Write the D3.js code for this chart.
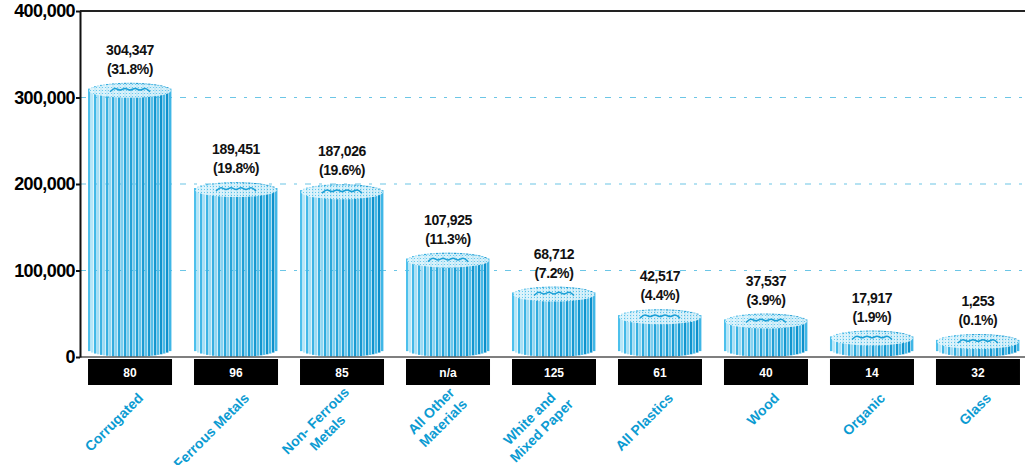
<!DOCTYPE html>
<html>
<head>
<meta charset="utf-8">
<script src="https://cdn.jsdelivr.net/npm/d3@7"></script>
<style>
body { margin: 0; background: #fff; }
svg { display: block; font-family: "Liberation Sans", Arial, sans-serif; }
</style>
</head>
<body>
<svg id="chart" width="1025" height="465"></svg>
<script>
// tons recovered per material, share of total, number of facilities
const categories = ["Corrugated", "Ferrous Metals", "Non- Ferrous\nMetals", "All Other\nMaterials",
                    "White and\nMixed Paper", "All Plastics", "Wood", "Organic", "Glass"];
const tons = [304347, 189451, 187026, 107925, 68712, 42517, 37537, 17917, 1253];
const shares = ["31.8%", "19.8%", "19.6%", "11.3%", "7.2%", "4.4%", "3.9%", "1.9%", "0.1%"];
const facilities = ["80", "96", "85", "n/a", "125", "61", "40", "14", "32"];
const yTicks = [0, 100000, 200000, 300000, 400000];

let width = 1025;
let y0 = 357;
let left = 80;

let svg = d3.select("#chart");

let y = d3.scaleLinear().domain([0, 400000]).range([y0, 11]);
let x = d3.scaleBand()
    .domain(categories)
    .range([77, 1031])
    .paddingInner(0.2075)
    .paddingOuter(0.104);
let bw = x.bandwidth();

// dashed grid
svg.append("g").selectAll("line")
    .data(yTicks.filter(t => t > 0 && t < 400000))
    .enter().append("line")
    .attr("x1", left).attr("x2", width)
    .attr("y1", d => y(d)).attr("y2", d => y(d))
    .attr("stroke", "#6cc6e6")
    .attr("stroke-width", 1.2)
    .attr("stroke-dasharray", "6,8,3,8");

// top border
svg.append("line")
    .attr("x1", left).attr("x2", width)
    .attr("y1", y(400000)).attr("y2", y(400000))
    .attr("stroke", "#222").attr("stroke-width", 2);

// dotted pattern for the cylinder caps
let defs = svg.append("defs");
let pat = defs.append("pattern")
    .attr("id", "dots").attr("width", 3).attr("height", 3)
    .attr("patternUnits", "userSpaceOnUse");
pat.append("rect").attr("width", 3).attr("height", 3).attr("fill", "#e4f6fc");
pat.append("rect").attr("width", 1).attr("height", 1).attr("fill", "#5cc5ec");

// bars drawn as striped cylinders
let nStripes = 28;
let sw = bw / nStripes;
let ry = 8;
let darkC = d3.interpolateRgb("#4cc0ec", "#0a8fca");
let paleC = d3.interpolateRgb("#c4ecfa", "#3fb6e6");

let bars = svg.append("g").selectAll("g")
    .data(categories.map((c, i) => ({cat: c, v: tons[i], i: i})))
    .enter().append("g");

bars.each(function(d) {
    let g = d3.select(this);
    let x0 = x(d.cat);
    let yc = Math.min(y(d.v) - 3, y0 - 15);
    let yb = y0 - ry;
    d.yc = yc;
    g.selectAll("rect")
        .data(d3.range(nStripes))
        .enter().append("rect")
        .attr("x", i => x0 + i * sw)
        .attr("width", sw - 0.6)
        .attr("y", i => {
            let t = ((i + 0.5) / nStripes) * 2 - 1;
            return yc - ry * Math.sqrt(1 - t * t);
        })
        .attr("height", i => {
            let t = ((i + 0.5) / nStripes) * 2 - 1;
            let s = Math.sqrt(1 - t * t);
            return (yb + ry * s) - (yc - ry * s);
        })
        .attr("fill", i => {
            let k = Math.pow(i / (nStripes - 1), 0.7);
            return i % 2 == 0 ? darkC(k) : paleC(k);
        });

    // cap
    g.append("ellipse")
        .attr("cx", x0 + bw / 2).attr("cy", yc)
        .attr("rx", bw / 2 - 1).attr("ry", ry - 1)
        .attr("fill", "url(#dots)")
        .attr("opacity", 0.85);
    let sq = d3.range(9).map(k => [x0 + bw / 2 - 20 + k * 5, yc - 1 + (k % 2 ? -3 : 2)]);
    g.append("path")
        .attr("d", d3.line().curve(d3.curveBasis)(sq))
        .attr("fill", "none")
        .attr("stroke", "#1a9fd6")
        .attr("stroke-width", 1.5);
});

// value labels
let labels = svg.append("g")
    .attr("font-size", 14)
    .attr("font-weight", "bold")
    .attr("text-anchor", "middle")
    .attr("fill", "#111");
bars.data().forEach(d => {
    let cx = x(d.cat) + bw / 2;
    labels.append("text").attr("x", cx).attr("y", d.yc - 36)
        .attr("letter-spacing", -0.4)
        .text(d3.format(",")(d.v));
    labels.append("text").attr("x", cx).attr("y", d.yc - 17)
        .attr("letter-spacing", -0.4)
        .text("(" + shares[d.i] + ")");
});

// baseline
svg.append("line")
    .attr("x1", left).attr("x2", width)
    .attr("y1", y0).attr("y2", y0)
    .attr("stroke", "#555").attr("stroke-width", 1.5);

// y axis
let yAxis = svg.append("g")
    .attr("transform", `translate(${left},0)`)
    .call(d3.axisLeft(y).tickValues(yTicks).tickFormat(d3.format(",")).tickSize(4).tickSizeOuter(0).tickPadding(1));
yAxis.select(".domain").attr("stroke", "#111").attr("stroke-width", 2);
yAxis.selectAll(".tick line").attr("stroke", "#111").attr("stroke-width", 2);
yAxis.selectAll(".tick text")
    .attr("font-size", 18)
    .attr("font-weight", "bold")
    .attr("letter-spacing", -0.6)
    .attr("fill", "#000")
    .attr("font-family", "\"Liberation Sans\", Arial, sans-serif");

// facility count boxes
let boxes = svg.append("g").selectAll("g")
    .data(categories)
    .enter().append("g");
boxes.append("rect")
    .attr("x", d => x(d)).attr("y", y0 + 2)
    .attr("width", bw).attr("height", 26)
    .attr("fill", "#000");
boxes.append("text")
    .attr("x", d => x(d) + bw / 2).attr("y", y0 + 20)
    .attr("text-anchor", "middle")
    .attr("font-size", 12).attr("font-weight", "bold")
    .attr("fill", "#fff")
    .text((d, i) => facilities[i]);

// rotated category names
let lineH = 17;
categories.forEach(c => {
    let lines = c.split("\n");
    let g = svg.append("g")
        .attr("transform", `translate(${x(c) + bw / 2 + 14},399) rotate(-45)`)
        .attr("font-size", 14).attr("font-weight", "bold")
        .attr("fill", "#0b9bd2")
        .attr("text-anchor", "middle");
    let texts = lines.map((s, i) => g.append("text")
        .attr("y", (i - (lines.length - 1) / 2) * lineH)
        .text(s));
    let maxLen = d3.max(texts, t => t.node().getComputedTextLength());
    texts.forEach(t => t.attr("x", -maxLen / 2));
});
</script>
</body>
</html>
